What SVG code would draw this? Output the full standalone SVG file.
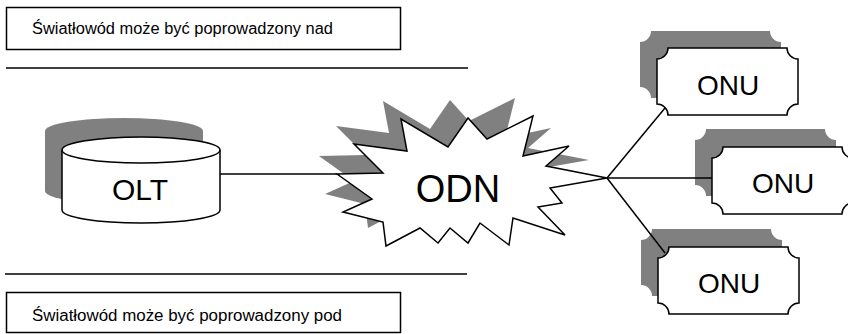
<svg xmlns="http://www.w3.org/2000/svg" width="848" height="334" viewBox="0 0 848 334">
<style>
.box{fill:#fff;stroke:#000;stroke-width:1.5}
.shadow{fill:#808080;stroke:none}
.line{stroke:#000;stroke-width:1.5;fill:none}
.small{font-family:"Liberation Sans",Arial,sans-serif;font-size:16px;fill:#000}
.big{font-family:"Liberation Sans",Arial,sans-serif;fill:#000;text-anchor:middle}
</style>
<defs>
<path id="plaque" d="M11,0 H130 A11 11 0 0 0 141,11 V56 A11 11 0 0 0 130,67 H11 A11 11 0 0 0 0,56 V11 A11 11 0 0 0 11,0 Z"/>
<path id="star" d="M337,174 L383,173 L354,144 L407,151 L401,119 L448,147 L468,118 L487,139 L533,116 L523,156 L569,146 L546,166 L607,178 L550,188 L562,203 L538,207 L565,235 L513,218 L509,245 L480,223 L468,243 L450,228 L438,243 L420,228 L386,246 L383,222 L343,212 L372,199 Z"/>
</defs>

<g id="note-top">
<rect class="box" x="6.5" y="7.5" width="394" height="42"/>
<text class="small" x="32" y="34" textLength="301" lengthAdjust="spacingAndGlyphs">Światłowód może być poprowadzony nad</text>
</g>
<g id="line-top"><line class="line" x1="6" y1="68" x2="468" y2="68"/></g>
<g id="line-bottom"><line class="line" x1="5" y1="274" x2="467" y2="274"/></g>
<g id="note-bottom">
<rect class="box" x="6.5" y="292.5" width="394" height="40"/>
<text class="small" x="32" y="321" textLength="310" lengthAdjust="spacingAndGlyphs">Światłowód może być poprowadzony pod</text>
</g>

<g id="shadows">
<path class="shadow" d="M45,131 A79 13 0 0 1 203,131 V191 A79 13 0 0 1 45,191 Z"/>
<use href="#star" class="shadow" transform="translate(-18,-18)"/>
<use href="#plaque" class="shadow" transform="translate(640,31)"/>
<use href="#plaque" class="shadow" transform="translate(695,129)"/>
<use href="#plaque" class="shadow" transform="translate(641,229)"/>
</g>

<g id="connectors">
<line class="line" x1="220" y1="174" x2="337" y2="174"/>
<line class="line" x1="607" y1="178" x2="665" y2="108"/>
<line class="line" x1="607" y1="178" x2="712" y2="178"/>
<line class="line" x1="607" y1="178" x2="665" y2="253"/>
</g>

<g id="OLT">
<path class="box" d="M62,150 A79 13 0 0 1 220,150 V210 A79 13 0 0 1 62,210 Z"/>
<path class="line" d="M62,150 A79 13 0 0 0 220,150"/>
<text class="big" x="140" y="200" font-size="30">OLT</text>
</g>

<g id="ODN">
<use href="#star" class="box" stroke-linejoin="miter"/>
<text class="big" x="458" y="202" font-size="38">ODN</text>
</g>

<g id="ONU1">
<use href="#plaque" class="box" transform="translate(657,48)"/>
<text class="big" x="728" y="95" font-size="28">ONU</text>
</g>
<g id="ONU2">
<use href="#plaque" class="box" transform="translate(712,147)"/>
<text class="big" x="783" y="193" font-size="28">ONU</text>
</g>
<g id="ONU3">
<use href="#plaque" class="box" transform="translate(658,247)"/>
<text class="big" x="729" y="293" font-size="28">ONU</text>
</g>
</svg>
